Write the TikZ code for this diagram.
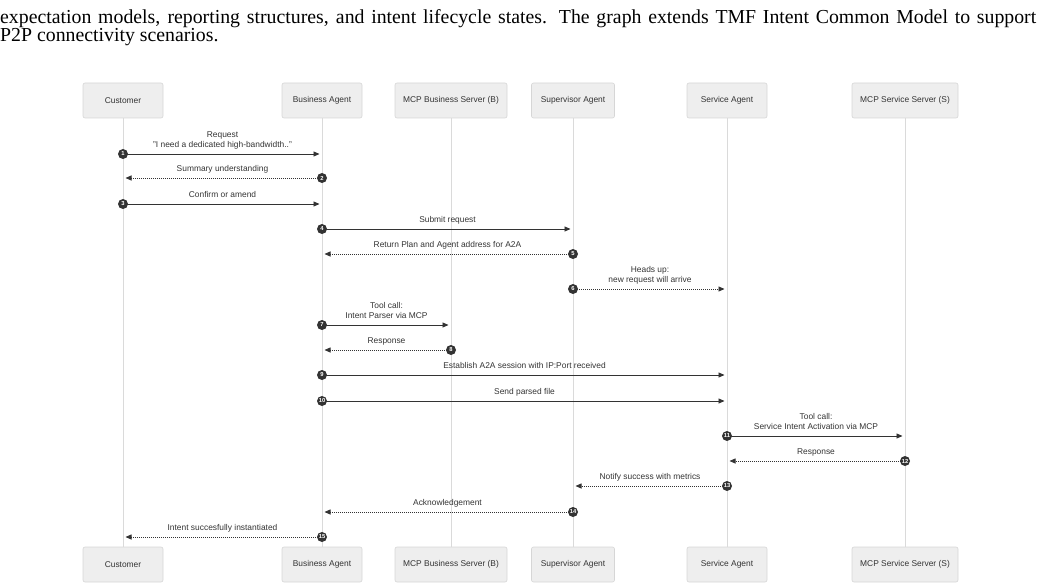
\documentclass[tikz,border=0pt]{standalone}
\usepackage{fontspec}
\setmainfont{Liberation Serif}
\setsansfont{Liberation Sans}
\usetikzlibrary{arrows.meta,calc}
\definecolor{boxfill}{HTML}{EEEEEE}
\definecolor{boxline}{HTML}{D6D6D6}
\definecolor{life}{HTML}{DADADA}
\definecolor{ink}{HTML}{333333}
\begin{document}
\begin{tikzpicture}[x=1pt,y=-1pt,
 participant/.style={draw=boxline, fill=boxfill, rounded corners=2pt, minimum height=35pt, font=\sffamily\fontsize{8.4}{10}\selectfont, text=ink, inner sep=0pt, line width=0.6pt},
 lifeline/.style={draw=life, line width=1pt},
 num/.style={circle, fill=ink, inner sep=0pt, minimum size=10pt, text=white, font=\sffamily\bfseries\fontsize{5.8}{6}\selectfont},
 msg/.style={draw=ink, line width=0.8pt, -{Triangle[length=6pt,width=5pt]}, shorten >=2.5pt},
 reply/.style={msg, dash pattern=on 1pt off 1pt},
 lbl/.style={font=\sffamily\fontsize{8.4}{10}\selectfont, text=ink, align=center, anchor=south, inner sep=0pt, text depth=0pt},
 captxt/.style={anchor=base west, inner sep=0pt, font=\fontsize{19.8}{18}\selectfont}
]
\useasboundingbox (0,0) rectangle (1041,588);

% caption text
\node[captxt] (cap2) at (0,23.5)
  {\makebox[1036pt][s]{expectation models, reporting structures, and intent lifecycle states. The graph extends TMF Intent Common Model to support}};
\node[captxt] (cap3) at (0,41.5) {P2P connectivity scenarios.};

% participants (top)
\node[participant, minimum width=80pt]  (cu)  at (123,100.5) {Customer};
\node[participant, minimum width=80pt]  (ba)  at (322,100.5) {Business Agent};
\node[participant, minimum width=112pt] (mb)  at (451,100.5) {MCP Business Server (B)};
\node[participant, minimum width=83pt]  (sv)  at (573,100.5) {Supervisor Agent};
\node[participant, minimum width=80pt]  (sa)  at (727,100.5) {Service Agent};
\node[participant, minimum width=106pt] (ms)  at (905,100.5) {MCP Service Server (S)};
% participants (bottom)
\node[participant, minimum width=80pt]  (cub) at (123,564.5) {Customer};
\node[participant, minimum width=80pt]  (bab) at (322,564.5) {Business Agent};
\node[participant, minimum width=112pt] (mbb) at (451,564.5) {MCP Business Server (B)};
\node[participant, minimum width=83pt]  (svb) at (573,564.5) {Supervisor Agent};
\node[participant, minimum width=80pt]  (sab) at (727,564.5) {Service Agent};
\node[participant, minimum width=106pt] (msb) at (905,564.5) {MCP Service Server (S)};

% lifelines
\draw[lifeline] (cu.south) -- (cub.north);
\draw[lifeline] (ba.south) -- (bab.north);
\draw[lifeline] (mb.south) -- (mbb.north);
\draw[lifeline] (sv.south) -- (svb.north);
\draw[lifeline] (sa.south) -- (sab.north);
\draw[lifeline] (ms.south) -- (msb.north);

% 1
\coordinate (e1) at (ba.center |- 0,154);
\draw[msg] (cu.center |- e1) -- (e1);
\node[num] (n1) at (cu.center |- e1) {1};
\node[lbl] (l1) at ($(n1)!0.5!(e1)+(0,-6)$) {Request\\"I need a dedicated high-bandwidth.."};
% 2
\coordinate (e2) at (cu.center |- 0,178);
\draw[reply] (ba.center |- e2) -- (e2);
\node[num] (n2) at (ba.center |- e2) {2};
\node[lbl] (l2) at ($(n2)!0.5!(e2)+(0,-6)$) {Summary understanding};
% 3
\coordinate (e3) at (ba.center |- 0,204);
\draw[msg] (cu.center |- e3) -- (e3);
\node[num] (n3) at (cu.center |- e3) {3};
\node[lbl] (l3) at ($(n3)!0.5!(e3)+(0,-6)$) {Confirm or amend};
% 4
\coordinate (e4) at (sv.center |- 0,229);
\draw[msg] (ba.center |- e4) -- (e4);
\node[num] (n4) at (ba.center |- e4) {4};
\node[lbl] (l4) at ($(n4)!0.5!(e4)+(0,-6)$) {Submit request};
% 5
\coordinate (e5) at (ba.center |- 0,254);
\draw[reply] (sv.center |- e5) -- (e5);
\node[num] (n5) at (sv.center |- e5) {5};
\node[lbl] (l5) at ($(n5)!0.5!(e5)+(0,-6)$) {Return Plan and Agent address for A2A};
% 6
\coordinate (e6) at (sa.center |- 0,289);
\draw[reply] (sv.center |- e6) -- (e6);
\node[num] (n6) at (sv.center |- e6) {6};
\node[lbl] (l6) at ($(n6)!0.5!(e6)+(0,-6)$) {Heads up:\\new request will arrive};
% 7
\coordinate (e7) at (mb.center |- 0,325);
\draw[msg] (ba.center |- e7) -- (e7);
\node[num] (n7) at (ba.center |- e7) {7};
\node[lbl] (l7) at ($(n7)!0.5!(e7)+(0,-6)$) {Tool call:\\Intent Parser via MCP};
% 8
\coordinate (e8) at (ba.center |- 0,350);
\draw[reply] (mb.center |- e8) -- (e8);
\node[num] (n8) at (mb.center |- e8) {8};
\node[lbl] (l8) at ($(n8)!0.5!(e8)+(0,-6)$) {Response};
% 9
\coordinate (e9) at (sa.center |- 0,375);
\draw[msg] (ba.center |- e9) -- (e9);
\node[num] (n9) at (ba.center |- e9) {9};
\node[lbl] (l9) at ($(n9)!0.5!(e9)+(0,-6)$) {Establish A2A session with IP:Port received};
% 10
\coordinate (e10) at (sa.center |- 0,401);
\draw[msg] (ba.center |- e10) -- (e10);
\node[num] (n10) at (ba.center |- e10) {10};
\node[lbl] (l10) at ($(n10)!0.5!(e10)+(0,-6)$) {Send parsed file};
% 11
\coordinate (e11) at (ms.center |- 0,436);
\draw[msg] (sa.center |- e11) -- (e11);
\node[num] (n11) at (sa.center |- e11) {11};
\node[lbl] (l11) at ($(n11)!0.5!(e11)+(0,-6)$) {Tool call:\\Service Intent Activation via MCP};
% 12
\coordinate (e12) at (sa.center |- 0,461);
\draw[reply] (ms.center |- e12) -- (e12);
\node[num] (n12) at (ms.center |- e12) {12};
\node[lbl] (l12) at ($(n12)!0.5!(e12)+(0,-6)$) {Response};
% 13
\coordinate (e13) at (sv.center |- 0,486);
\draw[reply] (sa.center |- e13) -- (e13);
\node[num] (n13) at (sa.center |- e13) {13};
\node[lbl] (l13) at ($(n13)!0.5!(e13)+(0,-6)$) {Notify success with metrics};
% 14
\coordinate (e14) at (ba.center |- 0,512);
\draw[reply] (sv.center |- e14) -- (e14);
\node[num] (n14) at (sv.center |- e14) {14};
\node[lbl] (l14) at ($(n14)!0.5!(e14)+(0,-6)$) {Acknowledgement};
% 15
\coordinate (e15) at (cu.center |- 0,537);
\draw[reply] (ba.center |- e15) -- (e15);
\node[num] (n15) at (ba.center |- e15) {15};
\node[lbl] (l15) at ($(n15)!0.5!(e15)+(0,-6)$) {Intent succesfully instantiated};
\end{tikzpicture}
\end{document}
